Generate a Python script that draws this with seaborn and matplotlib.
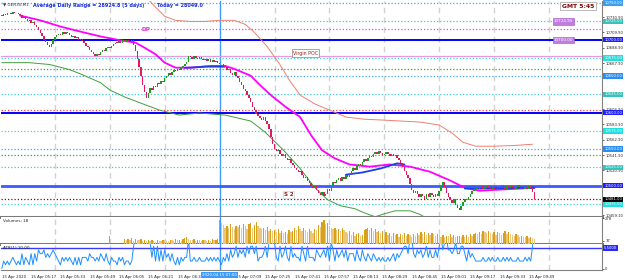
import numpy as np
import matplotlib
matplotlib.use("Agg")
import matplotlib.pyplot as plt
import matplotlib.transforms as mtransforms
import seaborn as sns

# ---------------- data ----------------
# 1-minute closes, first candle at 05:01
closes = [
    10733, 10735, 10734, 10736, 10737, 10735, 10738, 10736, 10737, 10735,
    10734, 10730, 10731, 10728, 10726, 10727, 10723, 10724, 10720, 10718,
    10713, 10709, 10705, 10700, 10697, 10693, 10690, 10694, 10699, 10703,
    10706, 10708, 10707, 10710, 10708, 10711, 10709, 10706, 10704, 10705,
    10702, 10703, 10700, 10701, 10698, 10695, 10692, 10690, 10686, 10683,
    10680, 10678, 10681, 10679, 10683, 10686, 10684, 10688, 10690, 10689,
    10692, 10694, 10696, 10695, 10698, 10696, 10699, 10698, 10700, 10698,
    10697, 10699, 10693, 10684, 10674, 10663, 10650, 10638, 10628, 10620,
    10627, 10634, 10631, 10637, 10635, 10641, 10639, 10644, 10642, 10647,
    10650, 10654, 10652, 10656, 10658, 10657, 10660, 10659, 10662, 10664,
    10667, 10670, 10678, 10676, 10674, 10677, 10675, 10673, 10676, 10674,
    10672, 10674, 10671, 10673, 10670, 10672, 10669, 10671, 10668, 10666,
    10667, 10664, 10662, 10658, 10660, 10655, 10652, 10656, 10650, 10647,
    10642, 10638, 10633, 10630, 10624, 10620, 10614, 10608, 10604, 10598,
    10596, 10593, 10590, 10594, 10588, 10585, 10578, 10566, 10557, 10550,
    10547, 10549, 10543, 10540, 10544, 10538, 10535, 10537, 10531, 10528,
    10524, 10521, 10518, 10520, 10514, 10510, 10512, 10506, 10503, 10500,
    10497, 10499, 10494, 10490, 10487, 10491, 10486, 10489, 10495, 10493,
    10500, 10505, 10503, 10508, 10511, 10507, 10512, 10509, 10514, 10512,
    10516, 10520, 10524, 10522, 10527, 10530, 10528, 10533, 10536, 10534,
    10538, 10541, 10539, 10543, 10546, 10544, 10547, 10545, 10542, 10544,
    10546, 10543, 10541, 10544, 10540, 10542, 10538, 10535, 10531, 10526,
    10520, 10514, 10510, 10502, 10494, 10490, 10493, 10488, 10484, 10489,
    10486, 10482, 10488, 10485, 10490, 10487, 10484, 10489, 10486, 10492,
    10500, 10505, 10498, 10490, 10485, 10480, 10476, 10481, 10474, 10470,
    10466, 10472, 10478, 10482, 10480, 10485, 10488, 10492, 10495, 10497,
    10495, 10497, 10499, 10496, 10498, 10500, 10497, 10495, 10498, 10496,
    10494, 10497, 10499, 10501, 10498, 10496, 10499, 10497, 10500, 10498,
    10496, 10498, 10501, 10499, 10497, 10495, 10498, 10496, 10499, 10497,
    10491, 10481,
]

volumes = [0] * 59 + [90] + [0] * 7 + [
    50, 45, 55, 40, 60, 35, 50, 45, 40, 55, 35, 45,
    30, 40, 35, 45, 30, 25, 40, 35, 30, 45,
    40, 35, 30, 45, 40, 35, 50, 40, 45, 35,
    55, 60, 75, 50, 45, 40, 55, 35, 45, 40,
    35, 45, 40, 30, 45, 35, 50, 40, 45, 55,
    255, 230, 200, 175, 190, 170, 210, 180, 160, 195,
    185, 200, 170, 210, 190, 160, 215, 230, 175, 200,
    240, 190, 170, 160, 175, 150, 180, 140, 160, 145,
    150, 130, 160, 120, 140, 115, 130, 110, 150, 125,
    140, 170, 150, 190, 160, 140, 175, 150, 130, 160,
    140, 120, 160, 150, 200, 180, 240, 255, 220, 230,
    190, 170, 160, 175, 150, 165, 140, 170, 150, 130,
    120, 140, 100, 130, 90, 110, 120, 85, 100, 150,
    160, 170, 150, 175, 140, 165, 130, 145, 120, 135,
    110, 130, 100, 120, 90, 115, 95, 110, 80, 105,
    100, 120, 85, 110, 95, 80, 105, 90, 115, 100,
    125, 110, 130, 100, 115, 95, 120, 105, 90, 110,
    95, 80, 100, 75, 90, 85, 110, 80, 95, 70,
    85, 90, 75, 100, 80, 95, 70, 105, 85, 110,
    120, 105, 130, 110, 140, 125, 115, 135, 120, 110,
    125, 100, 130, 115, 95, 120, 140, 105, 125, 110,
    100, 85, 110, 95, 75, 90, 80, 70, 85, 65,
    75, 60, 55,
]

# moving average (magenta), minutes after 05:00 / price
ma_t = [11, 22, 33, 44, 55, 66, 74, 79, 85, 90, 96, 104, 115, 123, 128, 137, 142,
        148, 156, 164, 170, 176, 183, 191, 202, 213, 224, 235, 246, 254, 262, 273, 292]
ma_p = [10733, 10726.5, 10718, 10711, 10704.4, 10699, 10696, 10689, 10680, 10668.5,
        10661.6, 10661.6, 10664, 10664, 10660, 10650.6, 10638, 10624, 10608, 10594,
        10569, 10548.4, 10537.3, 10529, 10526, 10529, 10526, 10519, 10507, 10497,
        10493, 10494.5, 10497]

# second average (blue), drawn in pieces
blue1_t = [101, 106, 112, 118, 123]
blue1_p = [10661.5, 10662, 10663, 10663, 10663]
blue2_t = [189, 198, 208, 217, 221]
blue2_p = [10515, 10518, 10523.5, 10530.5, 10529]
blue3_t = [254, 262, 270, 278, 286, 292]
blue3_p = [10496, 10496, 10496.5, 10496.5, 10497, 10497]

# upper band (salmon)
up_t = [77, 80, 85, 90, 96, 104, 112, 120, 128, 134, 139, 146, 153, 158, 164, 172,
        180, 189, 199, 208, 219, 230, 240, 247, 253, 260, 270, 281, 291]
up_p = [10767, 10758, 10744.5, 10732, 10726.5, 10725, 10725, 10726.5, 10726.5, 10721,
        10710, 10690.6, 10665.8, 10645, 10624, 10612, 10603.6, 10594, 10591, 10590,
        10588.5, 10587, 10583, 10572, 10559.4, 10554, 10554, 10555, 10556.7]

# lower band (green)
lo_t = [1, 16, 27, 38, 45, 55, 60, 68, 77, 87, 98, 109, 123, 137, 145, 155, 164, 172,
        179, 186, 194, 199, 205, 210, 216, 224, 230, 235]
lo_p = [10668.5, 10668.5, 10666, 10659, 10652, 10641, 10631, 10621.6, 10613, 10603.6,
        10596.7, 10599.5, 10596.7, 10588.5, 10573, 10548.4, 10523.5, 10497.3, 10480.7,
        10472.4, 10468.3, 10462.8, 10457.3, 10461.4, 10465.5, 10465.5, 10460, 10451.7]

# horizontal levels
level_prices = [10750, 10725, 10714, 10700, 10677, 10675, 10660, 10650, 10625,
                10604, 10600, 10575, 10550, 10542, 10525, 10500, 10475]
box_prices = [10750, 10725, 10700, 10675, 10650, 10625, 10600, 10575, 10550, 10525, 10500, 10475]
price_ticks = [10730.9, 10709.9, 10688.9, 10667.9, 10604.9, 10583.9, 10562.9,
               10541.9, 10520.9, 10459.1]

xtick_minutes = [1, 17, 33, 49, 65, 81, 97, 129, 145, 161, 177, 193, 209, 225,
                 241, 257, 273, 289]
xtick_labels = ["15 Apr 2020", "15 Apr 05:17", "15 Apr 05:33", "15 Apr 05:49",
                "15 Apr 06:05", "15 Apr 06:21", "15 Apr 06:37", "15 Apr 07:09",
                "15 Apr 07:25", "15 Apr 07:41", "15 Apr 07:57", "15 Apr 08:13",
                "15 Apr 08:29", "15 Apr 08:45", "15 Apr 09:01", "15 Apr 09:17",
                "15 Apr 09:33", "15 Apr 09:49"]
vgrid_minutes = [30, 60, 90, 150, 180, 210, 240, 270, 300]
session_minute = 120
session_label = "2020.04.15 07:00"

atr_level = 5.5

# ---------------- figure ----------------
sns.set_style("white")
plt.rcParams['font.family'] = ['DejaVu Sans']

W, H = 625, 280
fig = plt.figure(figsize=(W / 100, H / 100), dpi=100)
fig.patch.set_facecolor("white")

def fx(px):
    return px / W

def fy(py):
    return 1 - py / H

L, R = 1, 602
ax = fig.add_axes([fx(L), fy(217), fx(R - L), (217 - 1) / H])
axv = fig.add_axes([fx(L), fy(244), fx(R - L), 27 / H], sharex=ax)
axa = fig.add_axes([fx(L), fy(270), fx(R - L), 26 / H], sharex=ax)

xmin, xmax = L / 1.83, R / 1.83
ax.set_xlim(xmin, xmax)
ax.set_ylim(10457, 10753)

m = np.arange(1, len(closes) + 1)
c = np.array(closes, dtype=float)
o = np.r_[c[0], c[:-1]]

FS = 2.7
for a in (ax, axv, axa):
    a.set_facecolor("white")
    for s in ("left", "top"):
        a.spines[s].set_visible(False)
    a.spines["right"].set_color("#808080")
    a.spines["right"].set_linewidth(0.8)
    for v in vgrid_minutes:
        a.axvline(v, color="#d2d2d2", lw=1.0, ls=(0, (4, 3)), zorder=0.5)
    a.axvline(session_minute, color="#3d9bff", lw=1.0, zorder=0.6)
for a in (ax, axv):
    a.spines["bottom"].set_color("#7a7a7a")
    a.spines["bottom"].set_linewidth(2.2)
axa.spines["bottom"].set_color("#808080")
axa.spines["bottom"].set_linewidth(0.8)

# horizontal levels
level_styles = [
    ("#3fa4ff", "dot", 0.9), ("#38d0d0", "dot", 0.9), ("#ee44ee", "dot", 0.9),
    ("#0000ff", "solid", 1.4), ("#e39be3", "solid", 0.9), ("#38d8d8", "dot", 0.9),
    ("#3aa03a", "dot", 0.9), ("#3fa4ff", "dot", 0.9), ("#38d0d0", "dot", 0.9),
    ("#ff3b3b", "dot", 0.9), ("#0000ff", "solid", 1.4), ("#38d8d8", "dot", 0.9),
    ("#3fa4ff", "dot", 0.9), ("#3aa03a", "dot", 0.9), ("#38d0d0", "dot", 0.9),
    ("#3b5bff", "solid", 2.0), ("#38d8d8", "dot", 0.9),
]
for p, (col, st, lw) in zip(level_prices, level_styles):
    ls = (0, (1, 1.6)) if st == "dot" else "-"
    ax.axhline(p, color=col, lw=lw, ls=ls, zorder=1)
ax.axhline(c[-1], color="#a00000", lw=0.9, ls=(0, (1, 1.6)), zorder=1)

# bands and averages
line_kw = dict(estimator=None, sort=False, legend=False)
sns.lineplot(x=up_t, y=up_p, ax=ax, color="#f08070", lw=0.7, zorder=2, **line_kw)
sns.lineplot(x=lo_t, y=lo_p, ax=ax, color="#3f9f3f", lw=0.7, zorder=2, **line_kw)
sns.lineplot(x=ma_t, y=ma_p, ax=ax, color="#ff00ff", lw=1.3, zorder=3, **line_kw)
for bt, bp in ((blue1_t, blue1_p), (blue2_t, blue2_p), (blue3_t, blue3_p)):
    sns.lineplot(x=bt, y=bp, ax=ax, color="#1f3fe0", lw=1.3, zorder=3.2, **line_kw)

# candles
up = c >= o
ccol = np.where(up, "#1c9c1c", "#e2195c")
ax.bar(m, np.maximum(np.abs(c - o), 1.2), bottom=np.minimum(o, c), width=0.78,
       color=ccol, linewidth=0, zorder=4)

# right price axis
ax.yaxis.tick_right()
ax.set_yticks(price_ticks)
ax.set_yticklabels([f"{v:.2f}" for v in price_ticks])
ax.tick_params(axis="y", labelsize=FS, length=1.5, pad=0.8, colors="#222222", width=0.5)
ax.tick_params(axis="x", bottom=False, labelbottom=False)

trans = mtransforms.blended_transform_factory(ax.transAxes, ax.transData)
box_colors = ["#3d9df0", "#36c3bb", "#1f1fff", "#22dede", "#2a8ff5", "#36c3bb",
              "#1f1fff", "#22dede", "#2a8ff5", "#36c3bb", "#1f1fff", "#22dede"]
box_kw = dict(transform=trans, fontsize=FS, color="white", va="center", ha="left",
              clip_on=False, zorder=10)
for p, bc in zip(box_prices, box_colors):
    ax.text(1.0035, p, f"{p:.2f}", bbox=dict(boxstyle="square,pad=0.2", fc=bc, ec="none"),
            **box_kw)
ax.text(1.0035, c[-1], f"{c[-1]:.2f}", bbox=dict(boxstyle="square,pad=0.2", fc="black",
                                                  ec="none"), **box_kw)

# chart annotations
ax.text(80, 10714.5, "DP", color="#ee33ee", fontsize=4.2, fontweight="bold",
        ha="center", va="center", zorder=6)
ax.text(160, 10681.5, "Virgin POC", color="#8b2020", fontsize=3.4, ha="left",
        va="center", zorder=6,
        bbox=dict(boxstyle="square,pad=0.25", fc="white", ec="#b07070", lw=0.5))
ax.text(155, 10487.6, "S 2", color="#8b1a1a", fontsize=4.0, fontweight="bold",
        ha="left", va="center", zorder=6,
        bbox=dict(boxstyle="square,pad=0.2", fc="white", ec="#c8c8c8", lw=0.4))
for p in (10724.95, 10700.00):
    ax.text(302.5, p, f"{p:.2f}", color="white", fontsize=3.0, ha="left",
            va="center", zorder=6,
            bbox=dict(boxstyle="square,pad=0.25", fc="#c07ce0", ec="#a050c8", lw=0.4))
ax.text(307, 10746, "GMT 5:45", color="#8b0000", fontsize=4.4, fontweight="bold",
        ha="left", va="center", zorder=6,
        bbox=dict(boxstyle="square,pad=0.3", fc="white", ec="#a0a0a0", lw=0.5))

fig.text(fx(3), fy(5), "▼ GER30,M1", fontsize=3.0, color="#333333", va="center")
fig.text(fx(33), fy(5), "Average Daily Range = 28924.8 (5 days)", fontsize=3.5,
         fontweight="bold", color="#1c2fe0", va="center")
fig.text(fx(157), fy(5), "Today = 28049.0", fontsize=3.5, fontweight="bold",
         color="#1c2fe0", va="center")

# volumes
v = np.array(volumes, dtype=float)
vprev = np.r_[0, v[:-1]]
vcol = np.where(v >= vprev, "#d9a01c", "#ecc67c")
axv.bar(m, v, width=0.7, color=vcol, linewidth=0, zorder=3)
axv.set_ylim(0, 290)
axv.yaxis.tick_right()
axv.set_yticks([37, 278])
axv.set_yticklabels(["37", "278"])
axv.tick_params(axis="y", labelsize=FS, length=1.5, pad=0.8, colors="#222222", width=0.5)
axv.tick_params(axis="x", bottom=False, labelbottom=False)
axv.text(0.004, 0.86, "Volumes: 18", transform=axv.transAxes, fontsize=3.0,
         color="#222222", va="center", ha="left")

# ATR(1) = true range of each bar
atr = np.abs(c - o)
sns.lineplot(x=m, y=atr, ax=axa, color="#1e8fff", lw=0.7, zorder=3, **line_kw)
axa.axhline(atr_level, color="#3a3aff", lw=1.0, zorder=2)
axa.set_ylim(-0.4, 6.6)
axa.yaxis.tick_right()
axa.set_yticks([0])
axa.set_yticklabels(["0"])
axa.tick_params(axis="y", labelsize=FS, length=1.5, pad=0.8, colors="#222222", width=0.5)
transa = mtransforms.blended_transform_factory(axa.transAxes, axa.transData)
axa.text(1.0035, atr_level, f"{atr_level:.4f}", transform=transa, fontsize=FS,
         color="white", va="center", ha="left", clip_on=False, zorder=10,
         bbox=dict(boxstyle="square,pad=0.2", fc="#2a2aff", ec="none"))
axa.text(0.004, 0.85, f"ATR(1) {atr[-1]:.2f}", transform=axa.transAxes, fontsize=3.0,
         color="#222222", va="center", ha="left")

axa.set_xticks(xtick_minutes)
axa.set_xticklabels(xtick_labels, ha="left")
axa.tick_params(axis="x", labelsize=2.8, length=2, pad=1.5, colors="#222222", width=0.5)
transx = mtransforms.blended_transform_factory(axa.transData, axa.transAxes)
axa.text(session_minute, -0.2, session_label, transform=transx, fontsize=2.8,
         color="white", ha="center", va="center", clip_on=False, zorder=10,
         bbox=dict(boxstyle="square,pad=0.3", fc="#3d9bff", ec="none"))
for a in (ax, axv, axa):
    a.set_xlabel("")
    a.set_ylabel("")
ax.set_xlim(xmin, xmax)

fig.savefig("out.png", dpi=100, facecolor="white")
